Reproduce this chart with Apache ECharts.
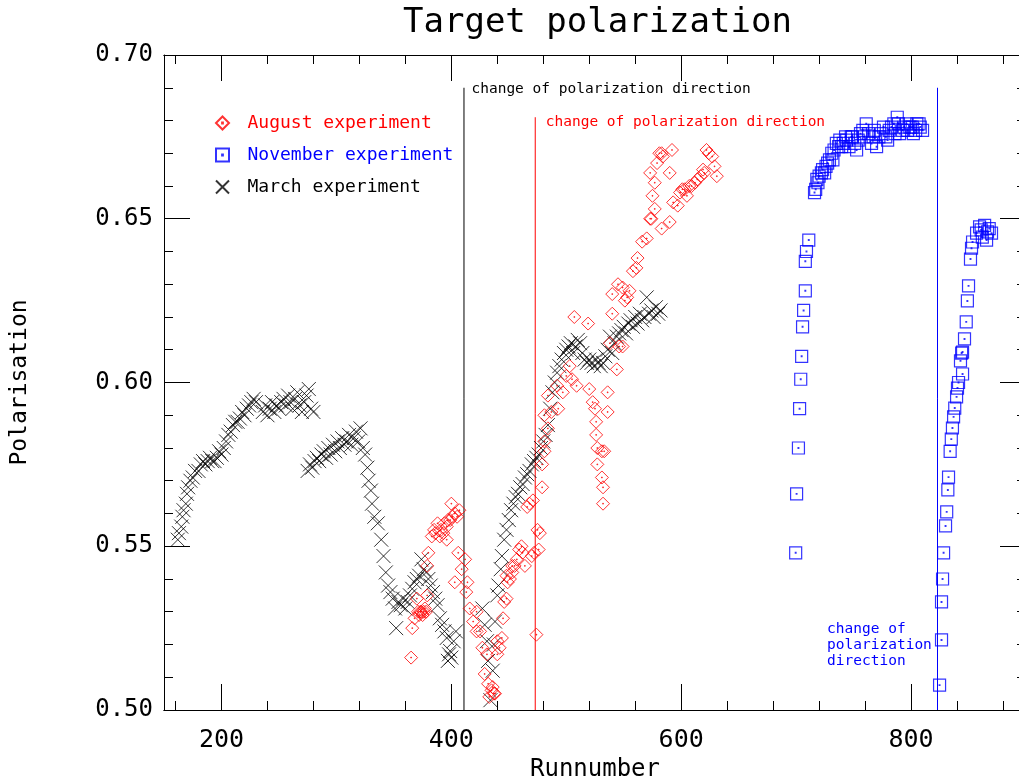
<!DOCTYPE html>
<html>
  <head>
    <meta charset="utf-8" />
    <title>Target polarization</title>
    <script src="https://cdn.jsdelivr.net/npm/echarts@6/dist/echarts.min.js"></script>
  </head>
  <body style="margin:0;background:#fff;overflow:hidden;">
    <div id="main" style="width: 1019px;height:779px;"></div>
    <script type="text/javascript">
// [runnumber, polarisation]
var marchData = [
  [162,0.552],[163,0.554],[165,0.556],[166,0.559],[167,0.561],[169,0.563],[170,0.566],[171,0.568],[173,0.570],[175,0.571],
  [177,0.573],[180,0.573],[182,0.575],[184,0.576],[186,0.575],[188,0.576],[190,0.577],[192,0.576],[194,0.576],[196,0.577],
  [198,0.579],[200,0.578],[202,0.580],[204,0.582],[206,0.584],[208,0.585],[210,0.587],[212,0.588],[214,0.588],[216,0.589],
  [218,0.591],[220,0.590],[222,0.592],[224,0.593],[226,0.594],[228,0.595],[230,0.594],
  [236,0.591],[238,0.593],[240,0.590],[242,0.592],[244,0.594],[246,0.591],[248,0.593],[250,0.592],[252,0.594],[254,0.595],
  [256,0.593],[258,0.596],[260,0.594],[262,0.592],[264,0.595],[266,0.597],[268,0.593],[270,0.591],[272,0.594],[274,0.596],
  [276,0.598],[278,0.592],[280,0.591],
  [275,0.573],[277,0.575],[279,0.574],[281,0.576],[283,0.577],[285,0.576],[287,0.578],[289,0.579],[291,0.577],[293,0.580],
  [295,0.578],[297,0.581],[299,0.579],[301,0.582],[303,0.580],[305,0.583],[307,0.581],[309,0.582],[311,0.584],[313,0.581],
  [315,0.583],[317,0.585],[319,0.582],[321,0.586],[323,0.580],[325,0.578],[327,0.574],[328,0.570],[330,0.567],[331,0.563],
  [333,0.559],[336,0.557],[339,0.552],[341,0.547],[343,0.542],[345,0.538],[347,0.536],[349,0.534],[351,0.531],[352,0.525],
  [354,0.533],[356,0.532],[358,0.534],[360,0.531],[362,0.533],[364,0.535],[366,0.537],[368,0.539],[370,0.540],[372,0.541],
  [374,0.546],[376,0.543],[378,0.542],[380,0.540],[382,0.538],[384,0.536],[386,0.534],[388,0.532],[390,0.528],[392,0.526],
  [394,0.524],[396,0.522],[397,0.515],[398,0.517],[399,0.518],[400,0.516],[402,0.521],[404,0.524],
  [427,0.531],[429,0.526],[431,0.521],[432,0.515],[434,0.503],[436,0.512],[437,0.520],[438,0.527],[440,0.535],[441,0.538],
  [443,0.543],[444,0.547],[446,0.552],[448,0.555],[450,0.558],[452,0.561],[454,0.563],[456,0.565],[458,0.566],[460,0.568],
  [462,0.569],[464,0.571],[466,0.572],[468,0.573],[470,0.575],[472,0.576],[474,0.577],[476,0.578],[478,0.580],[480,0.582],
  [482,0.584],[484,0.587],[486,0.592],[488,0.597],[490,0.600],[492,0.603],[494,0.605],[496,0.607],[498,0.609],[500,0.610],
  [502,0.611],[504,0.612],[506,0.609],[508,0.611],[510,0.613],[512,0.612],[514,0.609],[516,0.607],[518,0.606],[520,0.607],
  [522,0.606],[524,0.605],[526,0.607],[528,0.606],[530,0.605],[532,0.606],[534,0.608],[536,0.610],[538,0.614],[540,0.609],
  [542,0.612],[544,0.614],[546,0.615],[548,0.616],[550,0.617],[552,0.615],[554,0.618],[556,0.619],[558,0.617],[560,0.620],
  [562,0.618],[564,0.621],[566,0.619],[568,0.620],[570,0.626],[572,0.621],[574,0.622],[576,0.620],[578,0.623],[580,0.621],
  [582,0.622]
];

var augustData = [
  [365,0.516],[366,0.525],[368,0.528],[370,0.534],[371,0.530],[372,0.529],[373,0.530],[374,0.530],[375,0.529],[376,0.530],
  [377,0.531],[378,0.530],[379,0.535],[379,0.544],[380,0.548],[383,0.553],[385,0.555],[386,0.554],[388,0.557],[390,0.553],
  [391,0.555],[393,0.554],[394,0.557],[396,0.556],[396,0.552],[397,0.558],[399,0.558],[400,0.563],[401,0.559],[403,0.560],
  [405,0.559],[407,0.561],[403,0.539],[406,0.548],[409,0.543],[412,0.546],[413,0.536],[414,0.539],[416,0.531],[419,0.527],
  [422,0.530],[422,0.524],[425,0.524],[427,0.519],[429,0.511],[431,0.517],[432,0.508],[433,0.504],[435,0.506],[436,0.507],
  [437,0.505],[438,0.505],[440,0.517],[440,0.521],[442,0.519],[444,0.522],[445,0.528],[446,0.533],[448,0.534],[448,0.541],
  [449,0.539],[451,0.540],[453,0.542],[453,0.544],[455,0.544],[457,0.546],[459,0.549],[461,0.550],[462,0.548],[464,0.544],
  [466,0.562],[468,0.563],[470,0.547],[471,0.564],[472,0.548],[474,0.523],[475,0.555],[476,0.549],[477,0.554],[479,0.568],
  [479,0.575],[481,0.579],[481,0.582],[484,0.586],[481,0.590],[487,0.591],[493,0.592],[484,0.596],[492,0.599],[497,0.597],
  [500,0.602],[503,0.605],[505,0.601],[507,0.620],[509,0.599],[519,0.618],[520,0.598],[523,0.594],[525,0.592],[526,0.588],
  [526,0.584],[527,0.580],[527,0.575],[531,0.579],[531,0.571],[532,0.568],[532,0.563],[533,0.579],[536,0.597],[536,0.591],
  [538,0.612],[540,0.621],[540,0.627],[544,0.604],[545,0.630],[546,0.611],[549,0.611],[549,0.629],[551,0.625],[553,0.626],
  [555,0.628],[558,0.634],[561,0.635],[562,0.638],[566,0.643],[570,0.644],[573,0.650],[574,0.650],[575,0.657],[577,0.653],
  [577,0.661],[573,0.664],[579,0.667],[581,0.670],[583,0.670],[584,0.669],[590,0.664],[592,0.671],[583,0.647],[590,0.649],
  [593,0.655],[597,0.654],[599,0.658],[601,0.659],[603,0.659],[605,0.657],[607,0.660],[609,0.660],[612,0.661],[614,0.662],
  [617,0.663],[619,0.665],[620,0.664],[622,0.671],[624,0.670],[627,0.669],[629,0.666],[631,0.663]
];

var novemberData = [
  [699.6,0.548],[700.4,0.566],[702,0.580],[703,0.592],[704,0.601],[704.8,0.608],[705.6,0.617],[706.5,0.622],[708,0.628],
  [708,0.637],[709,0.640],[711,0.6435],
  [716,0.658],[717,0.659],[718,0.662],[719,0.661],[720,0.663],[722,0.664],[723,0.665],[724.8,0.664],[726,0.666],[727.4,0.667],
  [729,0.668],[731,0.670],[732,0.668],[733,0.671],[735,0.673],[737,0.672],[738,0.674],[739.6,0.672],[741,0.673],[743,0.675],
  [744,0.674],[746,0.672],[748,0.675],[749,0.675],[751,0.673],[752.6,0.671],[754,0.674],[756,0.676],[758,0.677],[759,0.675],
  [761,0.679],[763,0.676],[765.6,0.673],[767,0.675],[768,0.677],[770,0.672],[772,0.675],[774,0.676],[776,0.678],[778,0.675],
  [779.6,0.674],[781,0.677],[783,0.678],[785,0.679],[786,0.676],[788,0.681],[789,0.679],[790,0.676],[792.6,0.677],[794,0.678],
  [796,0.679],[797,0.677],[799,0.678],[801,0.678],[802,0.676],[804,0.677],[805,0.679],[807,0.679],[808,0.678],[810,0.677],
  [824.8,0.5076],[826.5,0.5214],[826.5,0.533],[827.4,0.540],[828.3,0.548],[830,0.5562],[831,0.5605],[832,0.5672],[832.6,0.5711],
  [834,0.579],[835,0.5827],[836,0.5861],[837,0.5895],[838,0.5922],[839.6,0.5956],[840.4,0.5983],[841.3,0.600],[843,0.6066],
  [844,0.609],[844.8,0.6093],[844.8,0.6026],[846.5,0.6133],[848,0.6185],[849,0.6249],[850,0.6295],[851.7,0.6377],[852.6,0.641],
  [853.5,0.6429],[857,0.6456],[859.6,0.6475],[861,0.6466],[862,0.6444],[864,0.648],[865.7,0.6435],[866.5,0.646],[868,0.647],
  [870,0.6456]
];

// vertical "change of polarization direction" markers: [runnumber, top of line]
var flipMarch = [411, 0.69];
var flipAugust = [473, 0.681];
var flipNovember = [823, 0.69];

// annotation anchors [runnumber, polarisation]
var noteMarch = [411, 0.6895];
var noteAugust = [473, 0.6795];
var noteNovember = [726.5, 0.5198];

var majorX = [200, 400, 600, 800];
var minorX = [160, 240, 280, 320, 360, 440, 480, 520, 560, 640, 680, 720, 760, 840, 880];

var FONT = 'DejaVu Sans Mono';
var diamond = 'path://M5,0L10,5L5,10L0,5Z M4.7,4.7H5.3V5.3H4.7Z';
var square = 'path://M0,0H10V10H0Z M4.7,4.7H5.3V5.3H4.7Z';
var cross = 'path://M0,0L10,10M10,0L0,10';

var myChart = echarts.init(document.getElementById('main'));

function xAxisDef(pos, values, len, withLabel) {
  return {
    type: 'value', position: pos, min: 150, max: 900,
    axisLine: { show: true, onZero: false, lineStyle: { color: '#000', width: 1 } },
    axisTick: { show: true, inside: true, length: len, customValues: values, lineStyle: { color: '#000' } },
    axisLabel: withLabel ? { show: true, customValues: values, margin: 18, color: '#000', fontFamily: FONT, fontSize: 25 } : { show: false },
    splitLine: { show: false }
  };
}

function yAxisDef(pos, withLabel) {
  return {
    type: 'value', position: pos, min: 0.5, max: 0.7, interval: 0.05,
    axisLine: { show: true, onZero: false, lineStyle: { color: '#000', width: 1 } },
    axisTick: { show: true, inside: true, length: 26, lineStyle: { color: '#000' } },
    minorTick: { show: true, splitNumber: 5, length: 9, lineStyle: { color: '#000' } },
    axisLabel: withLabel ? {
      show: true, margin: 11, color: '#000', fontFamily: FONT, fontSize: 24,
      formatter: function (v) { return v.toFixed(2); }
    } : { show: false },
    splitLine: { show: false }
  };
}

var xMain = xAxisDef('bottom', majorX, 26, true);
xMain.name = 'Runnumber';
xMain.nameLocation = 'middle';
xMain.nameGap = 37;
xMain.nameTextStyle = { color: '#000', fontFamily: FONT, fontSize: 24 };

var yMain = yAxisDef('left', true);
yMain.name = 'Polarisation';
yMain.nameLocation = 'middle';
yMain.nameGap = 132;
yMain.nameTextStyle = { color: '#000', fontFamily: FONT, fontSize: 23 };

// vertical marker drawn as a two-point line series
function flipLine(name, p, color) {
  return {
    name: name, type: 'line', silent: true, symbol: 'none', showSymbol: false,
    color: color,
    itemStyle: { color: color },
    lineStyle: { color: color, width: 1, opacity: 1 },
    data: [[p[0], 0.5], [p[0], p[1]]],
    z: 1
  };
}

function notePoint(p, text, color, dist) {
  return {
    silent: true, symbol: 'rect', symbolSize: 1, animation: false,
    itemStyle: { color: 'rgba(0,0,0,0)' },
    label: {
      show: true, position: 'right', distance: dist, formatter: text,
      color: color, fontFamily: FONT, fontSize: 14.5, lineHeight: 16, align: 'left'
    },
    data: [{ coord: p }]
  };
}

myChart.setOption({
  animation: false,
  backgroundColor: '#fff',
  title: {
    text: 'Target polarization', left: 398, top: 1,
    textStyle: { color: '#000', fontFamily: FONT, fontSize: 34, fontWeight: 'normal' }
  },
  legend: {
    orient: 'vertical', left: 210, top: 109, itemWidth: 40, itemHeight: 13, itemGap: 14,
    textStyle: { fontFamily: FONT, fontSize: 18 },
    data: [
      { name: 'August experiment', textStyle: { color: '#ff0000' } },
      { name: 'November experiment', textStyle: { color: '#0000ff' } },
      { name: 'March experiment', textStyle: { color: '#000' } }
    ]
  },
  grid: { left: 164, top: 55, width: 862, bottom: 69, outerBoundsMode: 'none', containLabel: false },
  xAxis: [
    xMain,
    xAxisDef('bottom', minorX, 9, false),
    xAxisDef('top', majorX, 26, false),
    xAxisDef('top', minorX, 9, false)
  ],
  yAxis: [yMain, yAxisDef('right', false)],
  series: [
    flipLine('flip March', flipMarch, '#000000'),
    flipLine('flip August', flipAugust, '#ff0000'),
    flipLine('flip November', flipNovember, '#0000ff'),
    {
      name: 'March experiment', type: 'scatter', data: marchData,
      symbol: cross, symbolSize: 14, symbolKeepAspect: true,
      itemStyle: { color: 'rgba(0,0,0,0)', borderColor: '#000', borderWidth: 1 },
      markPoint: notePoint(noteMarch, 'change of polarization direction', '#000', 7)
    },
    {
      name: 'August experiment', type: 'scatter', data: augustData,
      symbol: diamond, symbolSize: 13, symbolKeepAspect: true,
      itemStyle: { color: 'rgba(0,0,0,0)', borderColor: '#ff0000', borderWidth: 1 },
      markPoint: notePoint(noteAugust, 'change of polarization direction', '#ff0000', 10)
    },
    {
      name: 'November experiment', type: 'scatter', data: novemberData,
      symbol: square, symbolSize: 12, symbolKeepAspect: true,
      itemStyle: { color: 'rgba(0,0,0,0)', borderColor: '#0000ff', borderWidth: 1.2 },
      markPoint: notePoint(noteNovember, 'change of\npolarization\ndirection', '#0000ff', 0)
    }
  ]
});
    </script>
  </body>
</html>
